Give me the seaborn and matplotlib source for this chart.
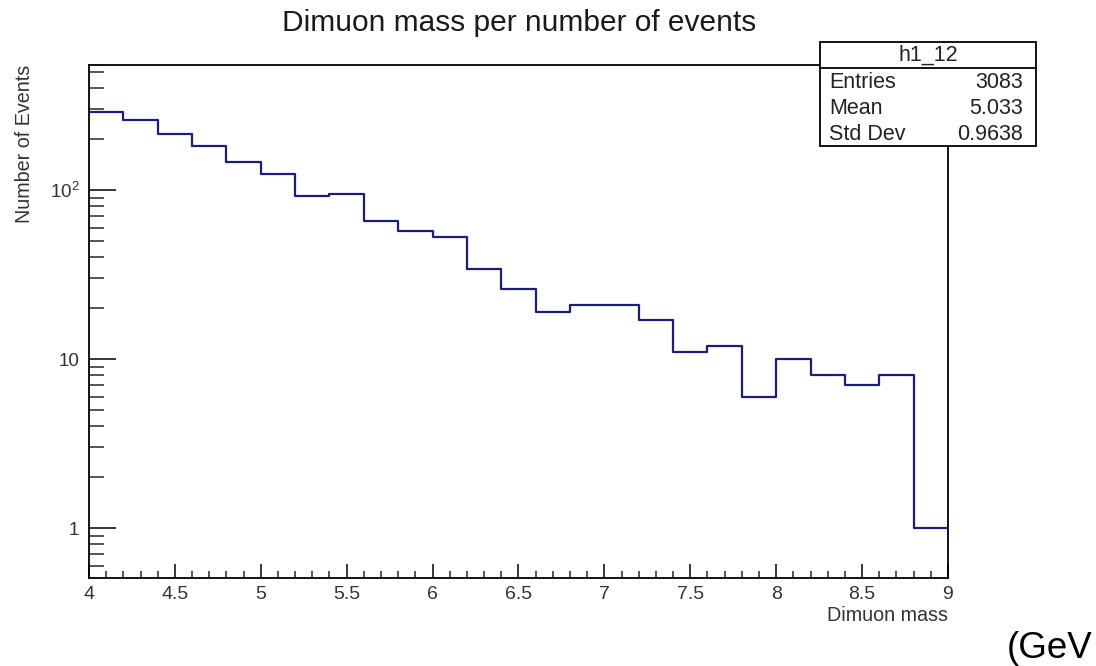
import numpy as np
import pandas as pd
import matplotlib
matplotlib.use("Agg")
import matplotlib.pyplot as plt
import seaborn as sns
from matplotlib.ticker import FixedLocator, FixedFormatter, MultipleLocator
from matplotlib.patches import Rectangle

# Histogram contents: 25 bins of 0.2 GeV between 4 and 9
bin_edges = [4.0, 4.2, 4.4, 4.6, 4.8, 5.0, 5.2, 5.4, 5.6, 5.8, 6.0, 6.2, 6.4,
             6.6, 6.8, 7.0, 7.2, 7.4, 7.6, 7.8, 8.0, 8.2, 8.4, 8.6, 8.8, 9.0]
counts = [290, 260, 214, 182, 146, 124, 92, 95, 66, 57, 53, 34, 26,
          19, 21, 21, 17, 11, 12, 6, 10, 8, 7, 8, 1]

# Statistics box contents
stats_name = "h1_12"
stats_labels = ["Entries", "Mean", "Std Dev"]
stats_values = ["3083", "5.033", "0.9638"]

x_tick_values = [4, 4.5, 5, 5.5, 6, 6.5, 7, 7.5, 8, 8.5, 9]
x_tick_labels = ["4", "4.5", "5", "5.5", "6", "6.5", "7", "7.5", "8", "8.5", "9"]
y_tick_values = [1, 10, 100]
y_tick_labels = ["1", "10", r"$\mathregular{10^{2}}$"]

sns.set_theme(style="white")
plt.rcParams["font.family"] = ["Liberation Sans", "DejaVu Sans"]

fig = plt.figure(figsize=(10.96, 6.66), dpi=100)
ax = fig.add_axes([0.0812, 0.1321, 0.7837, 0.7703])

centers = [(a + b) / 2 for a, b in zip(bin_edges[:-1], bin_edges[1:])]
df = pd.DataFrame({"mass": centers, "n": counts})
sns.histplot(data=df, x="mass", weights="n", bins=bin_edges, element="step",
             fill=False, color="#1c1c7c", linewidth=1.6, ax=ax)

ax.set_yscale("log")
ax.set_xlim(4, 9)
ax.set_ylim(0.506, 550)

# Frame
for side in ["left", "bottom", "right", "top"]:
    ax.spines[side].set_visible(True)
    ax.spines[side].set_color("black")
    ax.spines[side].set_linewidth(1.3)

# X ticks
ax.xaxis.set_minor_locator(MultipleLocator(0.1))
ax.set_xticks(x_tick_values)
ax.set_xticklabels(x_tick_labels)
ax.tick_params(axis="x", which="major", direction="in", length=10, width=1.1,
               labelsize=14, pad=5.5, colors="black", labelcolor="#333333",
               bottom=True, top=False)
ax.tick_params(axis="x", which="minor", direction="in", length=5, width=1.1,
               bottom=True, top=False)

# Y ticks (log)
minor_y = [m * 10 ** e for e in (-1, 0, 1, 2) for m in range(2, 10)]
minor_y = [v for v in minor_y if 0.5 <= v <= 550]
ax.yaxis.set_major_locator(FixedLocator(y_tick_values))
ax.yaxis.set_major_formatter(FixedFormatter(y_tick_labels))
ax.yaxis.set_minor_locator(FixedLocator(minor_y))
ax.yaxis.set_minor_formatter(FixedFormatter([""] * len(minor_y)))
ax.tick_params(axis="y", which="major", direction="in", length=19.5, width=1.1,
               labelsize=13.5, pad=7, colors="black", labelcolor="#333333",
               left=True, right=False)
ax.tick_params(axis="y", which="minor", direction="in", length=10.5, width=1.1,
               left=True, right=False)

ax.set_xlabel("")
ax.set_ylabel("")

# Titles
fig.text(0.4735, 0.966, "Dimuon mass per number of events", ha="center",
         va="center", fontsize=21.5, color="#1a1a1a")
fig.text(0.022, 0.9024, "Number of Events", rotation=90, ha="center", va="top",
         fontsize=14.2, color="#333333")
fig.text(0.865, 0.076, "Dimuon mass", ha="right", va="center",
         fontsize=14.2, color="#333333")
fig.text(0.919, 0.027, "(GeV", ha="left", va="center", fontsize=26.5, color="black")

# Statistics box
bx0, bx1 = 820 / 1096, 1036 / 1096
by_top, by_bot = 1 - 42 / 666, 1 - 146 / 666
by_div = 1 - 68 / 666
fig.patches.append(Rectangle((bx0, by_bot), bx1 - bx0, by_top - by_bot,
                             transform=fig.transFigure, facecolor="white",
                             edgecolor="black", linewidth=1.3, zorder=10))
fig.lines.append(plt.Line2D([bx0, bx1], [by_div, by_div], transform=fig.transFigure,
                            color="black", linewidth=1.3, zorder=11))
fig.text((bx0 + bx1) / 2, (by_top + by_div) / 2, stats_name, ha="center",
         va="center", fontsize=15.5, color="#222222", zorder=12)
row_h = (by_div - by_bot) / 3
for i, (lab, val) in enumerate(zip(stats_labels, stats_values)):
    yc = by_div - row_h * (i + 0.5) - 0.003
    fig.text(bx0 + 0.008, yc, lab, ha="left", va="center", fontsize=15.5,
             color="#222222", zorder=12)
    fig.text(bx1 - 0.012, yc, val, ha="right", va="center", fontsize=15.5,
             color="#222222", zorder=12)

fig.savefig("out.png", dpi=100, facecolor="white")
